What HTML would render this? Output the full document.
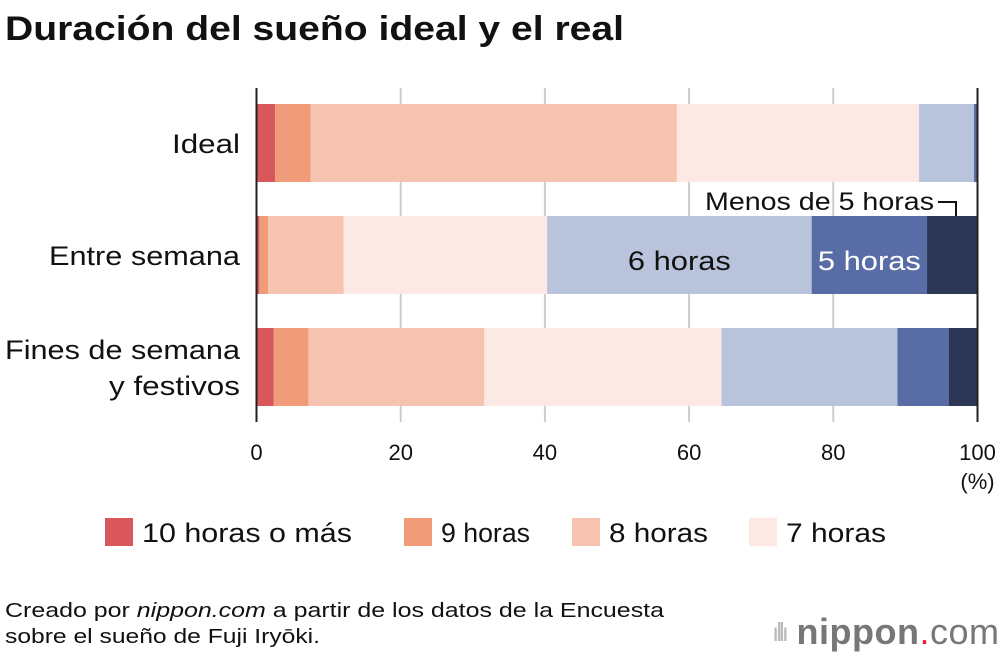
<!DOCTYPE html>
<html><head><meta charset="utf-8"><style>
body{margin:0;width:1000px;height:658px;background:#fff;font-family:"Liberation Sans",sans-serif;overflow:hidden;position:relative}
.t{position:absolute;white-space:nowrap;color:#111}
</style></head><body>
<svg id="c" width="1000" height="658" style="position:absolute;left:0;top:0;font-family:'Liberation Sans',sans-serif">
<text x="5" y="40" font-size="34" font-weight="bold" fill="#111" textLength="619" lengthAdjust="spacingAndGlyphs">Duración del sueño ideal y el real</text>
<text x="5" y="617" font-size="20" fill="#111" textLength="659" lengthAdjust="spacingAndGlyphs">Creado por <tspan font-style="italic">nippon.com</tspan> a partir de los datos de la Encuesta</text>
<text x="5" y="643" font-size="20" fill="#111" textLength="315" lengthAdjust="spacingAndGlyphs">sobre el sueño de Fuji Iryōki.</text>
</svg>
<div class="t" style="left:772px;top:611px;font-size:36px;color:#777;letter-spacing:0.5px"><span style="font-size:26px;color:#bbb;letter-spacing:-3px;vertical-align:3px">ıllı</span> <b>nippon</b><span style="color:#e8212e">.</span>com</div>
<script>
const categories=["Ideal","Entre semana","Fines de semana\ny festivos"];
const seriesNames=["10 horas o más","9 horas","8 horas","7 horas","6 horas","5 horas","Menos de 5 horas"];
const colors=["#d9565a","#f09c7b","#f6c3b1","#fce9e3","#bac3dc","#586ca6","#2e3656"];
const ideal=[2.6,4.9,50.8,33.6,7.6,0.5,0];
const weekday=[0.4,1.2,10.5,28.2,36.7,16.0,7.0];
const weekend=[2.4,4.8,24.4,32.9,24.4,7.1,4.0];
const ticks=[0,20,40,60,80,100];
const rows=[ideal,weekday,weekend];
const svg=document.getElementById('c');const NS="http://www.w3.org/2000/svg";
const x=v=>256.5+v*7.21;
const rowY=[104,216,328],bh=78;
function mk(t,a,p){const e=document.createElementNS(NS,t);for(const k in a)e.setAttribute(k,a[k]);(p||svg).appendChild(e);return e;}
ticks.forEach((t,i)=>{
 if(t>0&&t<100){const l=mk('line',{x1:x(t),x2:x(t),y1:88,y2:422,stroke:'#ccc','stroke-width':2});
 
 }
 const tx=mk('text',{x:x(t),y:460,'font-size':22,'text-anchor':'middle',fill:'#111'});tx.textContent=t;
 
 
});
const pct=mk('text',{x:x(100),y:489,'font-size':22,'text-anchor':'middle',fill:'#111'});pct.textContent='(%)';


const catW=[[68],[191],[235,131]];
rows.forEach((r,ri)=>{let c=0;r.forEach((v,si)=>{
 const b=mk('rect',{x:x(c),y:rowY[ri],width:Math.max(0,x(c+v)-x(c)),height:bh,fill:colors[si]});
 
 
 if(ri==1&&(si==4||si==5)){const tt=mk('text',{x:(x(c)+x(c+v))/2,y:rowY[ri]+54,'font-size':27,'text-anchor':'middle',fill:si==5?'#fff':'#111',textLength:103,lengthAdjust:'spacingAndGlyphs'});tt.textContent=si==4?'6 horas':'5 horas';
 
 }
 c+=v;});
 const lines=categories[ri].split('\n');
 lines.forEach((s,li)=>{const tl=mk('text',{x:240,y:rowY[ri]+bh/2+10+(li-(lines.length-1)/2)*36,'font-size':27,'text-anchor':'end',fill:'#111',textLength:catW[ri][li],lengthAdjust:'spacingAndGlyphs'});tl.textContent=s;
 
 });
});
const ax=mk('line',{x1:256.5,x2:256.5,y1:88,y2:422,stroke:'#222','stroke-width':2});


const ax2=mk('line',{x1:977.5,x2:977.5,y1:88,y2:422,stroke:'#222','stroke-width':2});


const ml=mk('text',{x:705,y:210,'font-size':25,fill:'#111',textLength:229,lengthAdjust:'spacingAndGlyphs'});ml.textContent='Menos de 5 horas';


const mp=mk('path',{d:'M938 202 H956 V216',fill:'none',stroke:'#111','stroke-width':2});


const lg=[[105,0,210],[404,1,89],[572,2,99],[749,3,100]];
lg.forEach(([lx,i,w])=>{const r=mk('rect',{x:lx,y:518,width:28,height:28,fill:colors[i]});
 
 
 const t=mk('text',{x:lx+37,y:542,'font-size':27,fill:'#111',textLength:w,lengthAdjust:'spacingAndGlyphs'});t.textContent=seriesNames[i];
 
 });
</script>
</body></html>
